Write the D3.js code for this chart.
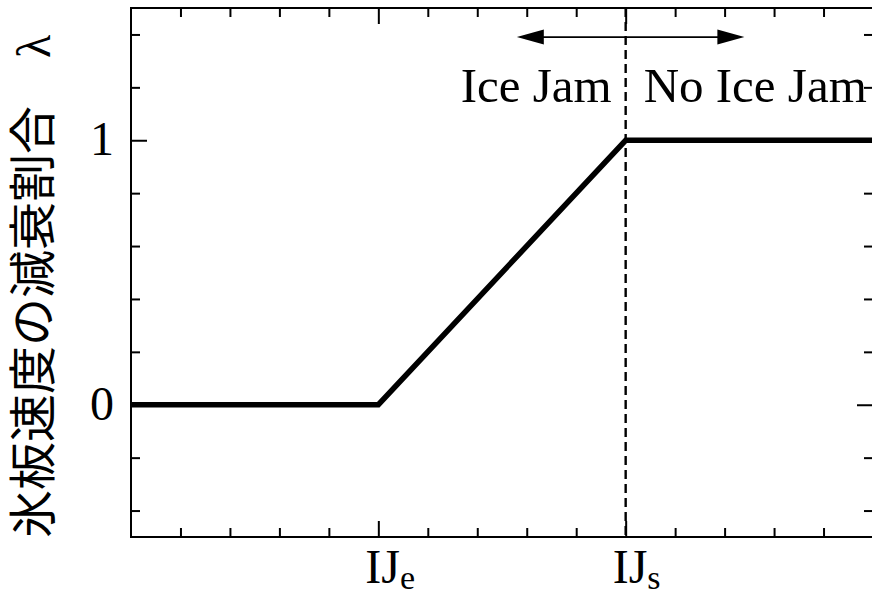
<!DOCTYPE html>
<html>
<head>
<meta charset="utf-8">
<script src="https://cdn.jsdelivr.net/npm/d3@7"></script>
<style>
  html, body { margin: 0; padding: 0; background: #fff; }
  svg { display: block; }
  text { font-family: "Liberation Serif", "Noto Sans CJK JP", serif; fill: #000; }
</style>
</head>
<body>
<svg id="chart" width="872" height="596"></svg>
<script>
// ---- data ----
const lineX = [0, 5, 10, 15];
const lineY = [0, 0, 1, 1];
const xDomain = [0, 15];
const yDomain = [-0.5, 1.5];
const xMinorTicks = [1, 2, 3, 4, 6, 7, 8, 9, 11, 12, 13, 14];
const xMajorTicks = [5, 10];
const xTickLabels = ["IJ", "IJ"];
const xTickSubs = ["e", "s"];
const yMinorTicks = [-0.4, -0.2, 0.2, 0.4, 0.6, 0.8, 1.2, 1.4];
const yMajorTicks = [0, 1];
const yTickLabels = ["0", "1"];
const thresholdX = 10;
const arrowSpan = [7.8, 12.4];
const arrowLevel = 1.39;
const regionLabels = ["Ice Jam", "No Ice Jam"];
const yTitle = "氷板速度の減衰割合　λ";

// ---- layout ----
const svg = d3.select("#chart");
const x = d3.scaleLinear().domain(xDomain).range([131, 873]);
const y = d3.scaleLinear().domain(yDomain).range([537, 8]);
const MAJ = 16, MIN = 9;

function axisGroup(axis, transform) {
  const g = svg.append("g").attr("transform", transform).call(axis);
  g.select(".domain").remove();
  g.selectAll(".tick line").attr("stroke", "#000").attr("stroke-width", 2);
  g.selectAll(".tick text").remove();
  return g;
}
// bottom
axisGroup(d3.axisBottom(x).tickValues(xMinorTicks).tickSize(-MIN), `translate(0,${y(yDomain[0])})`);
axisGroup(d3.axisBottom(x).tickValues(xMajorTicks).tickSize(-MAJ), `translate(0,${y(yDomain[0])})`);
// top
axisGroup(d3.axisTop(x).tickValues(xMinorTicks).tickSize(-MIN), `translate(0,${y(yDomain[1])})`);
axisGroup(d3.axisTop(x).tickValues(xMajorTicks).tickSize(-MAJ), `translate(0,${y(yDomain[1])})`);
// left
axisGroup(d3.axisLeft(y).tickValues(yMinorTicks).tickSize(-MIN), `translate(${x(xDomain[0])},0)`);
axisGroup(d3.axisLeft(y).tickValues(yMajorTicks).tickSize(-MAJ), `translate(${x(xDomain[0])},0)`);
// right
axisGroup(d3.axisRight(y).tickValues(yMinorTicks).tickSize(-MIN), `translate(${x(xDomain[1])},0)`);
axisGroup(d3.axisRight(y).tickValues(yMajorTicks).tickSize(-MAJ), `translate(${x(xDomain[1])},0)`);

// frame
svg.append("rect")
  .attr("x", x(xDomain[0])).attr("y", y(yDomain[1]))
  .attr("width", x(xDomain[1]) - x(xDomain[0]))
  .attr("height", y(yDomain[0]) - y(yDomain[1]))
  .attr("fill", "none").attr("stroke", "#000").attr("stroke-width", 2);

// dashed threshold
svg.append("line")
  .attr("x1", x(thresholdX)).attr("x2", x(thresholdX))
  .attr("y1", y(yDomain[1])).attr("y2", y(yDomain[0]))
  .attr("stroke", "#000").attr("stroke-width", 2.4)
  .attr("stroke-dasharray", "9,5");

// data line
const pts = lineX.map((d, i) => [d, lineY[i]]);
svg.append("path")
  .attr("d", d3.line().x(d => x(d[0])).y(d => y(d[1]))(pts))
  .attr("fill", "none").attr("stroke", "#000").attr("stroke-width", 5.5)
  .attr("stroke-linejoin", "miter");

// double arrow
const ay = y(arrowLevel), ax1 = x(arrowSpan[0]), ax2 = x(arrowSpan[1]);
svg.append("line").attr("x1", ax1 + 10).attr("x2", ax2 - 10)
  .attr("y1", ay).attr("y2", ay).attr("stroke", "#000").attr("stroke-width", 1.8);
svg.append("path").attr("d", `M${ax1},${ay} L${ax1 + 27},${ay - 7.5} L${ax1 + 27},${ay + 7.5} Z`).attr("fill", "#000");
svg.append("path").attr("d", `M${ax2},${ay} L${ax2 - 27},${ay - 7.5} L${ax2 - 27},${ay + 7.5} Z`).attr("fill", "#000");

// region labels
svg.append("text").attr("x", x(thresholdX) - 14).attr("y", 102)
  .attr("text-anchor", "end").attr("font-size", 49).text(regionLabels[0]);
svg.append("text").attr("x", x(thresholdX) + 18).attr("y", 102)
  .attr("text-anchor", "start").attr("font-size", 49).text(regionLabels[1]);

// y tick labels
yMajorTicks.forEach((v, i) => {
  svg.append("text").attr("x", 114).attr("y", y(v) + 15)
    .attr("text-anchor", "end").attr("font-size", 48).text(yTickLabels[i]);
});

// x tick labels
xMajorTicks.forEach((v, i) => {
  const t = svg.append("text").attr("x", x(v) - 13).attr("y", 583)
    .attr("text-anchor", "start").attr("font-size", 48);
  t.append("tspan").text(xTickLabels[i]);
  t.append("tspan").attr("font-size", 34).attr("dy", 6).text(xTickSubs[i]);
});

// y title
svg.append("text")
  .attr("transform", `translate(50,538) rotate(-90)`)
  .attr("text-anchor", "start").attr("font-size", 48)
  .text(yTitle);
</script>
</body>
</html>
